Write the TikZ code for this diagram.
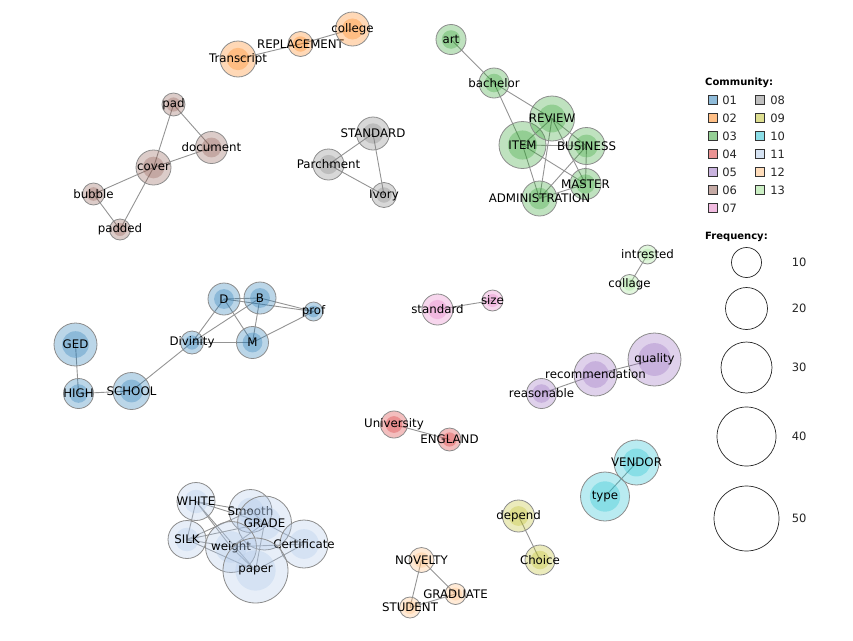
\documentclass[tikz,border=0pt]{standalone}
\usepackage{fontspec}
\setmainfont{DejaVu Sans}
\usetikzlibrary{backgrounds}

\definecolor{c01}{HTML}{1F77B4}
\definecolor{c02}{HTML}{FF7F0E}
\definecolor{c03}{HTML}{2CA02C}
\definecolor{c04}{HTML}{D62728}
\definecolor{c05}{HTML}{9467BD}
\definecolor{c06}{HTML}{8C564B}
\definecolor{c07}{HTML}{E377C2}
\definecolor{c08}{HTML}{7F7F7F}
\definecolor{c09}{HTML}{BCBD22}
\definecolor{c10}{HTML}{17BECF}
\definecolor{c11}{HTML}{AEC7E8}
\definecolor{c12}{HTML}{FFBB78}
\definecolor{c13}{HTML}{98DF8A}

\tikzset{
  word/.style={circle, inner sep=0pt, draw=black!45, line width=0.8pt,
    fill opacity=0.3, text opacity=1, font=\fontsize{11.8}{13}\selectfont},
  link/.style={draw=black!42, line width=0.9pt},
  keybox/.style={draw=black!80, line width=0.7pt, fill opacity=0.5},
  keytext/.style={anchor=west, inner sep=0pt, text opacity=1, fill opacity=1,
    font=\fontsize{11.5}{13}\selectfont, text=black!85},
  keyhead/.style={anchor=west, inner sep=0pt, font=\bfseries\fontsize{10}{12}\selectfont},
  keyring/.style={draw=black!85, line width=0.7pt}
}

% name, x, y, radius, colour, text
\newcommand{\wordnode}[6]{%
  \node[word, fill=#5, minimum size={2*#4pt},
    path picture={\fill[#5, fill opacity=0.3] (path picture bounding box.center) circle [radius={0.62*#4pt}];}]
    (#1) at (#2,#3) {\makebox[0pt]{#6}};}

\begin{document}
\begin{tikzpicture}[x=1pt,y=-1pt]
\useasboundingbox (0,0) rectangle (853,640);

% 02
\wordnode{transcript}{238}{59}{18}{c02}{Transcript}
\wordnode{replacement}{300.5}{44}{12.5}{c02}{REPLACEMENT}
\wordnode{college}{352.5}{29}{17}{c02}{college}
% 06
\wordnode{pad}{173.5}{104.5}{11.5}{c06}{pad}
\wordnode{document}{211.5}{147.5}{16}{c06}{document}
\wordnode{cover}{153.5}{167.5}{17.5}{c06}{cover}
\wordnode{bubble}{93.5}{194}{11}{c06}{bubble}
\wordnode{padded}{120}{229.5}{10.5}{c06}{padded}
% 08
\wordnode{standarduc}{373}{133.5}{16.5}{c08}{STANDARD}
\wordnode{parchment}{328.5}{164.5}{15.5}{c08}{Parchment}
\wordnode{ivory}{384}{195}{12.5}{c08}{Ivory}
% 03
\wordnode{art}{451}{39.5}{15}{c03}{art}
\wordnode{bachelor}{494}{83}{15}{c03}{bachelor}
\wordnode{item}{522.5}{145}{23.5}{c03}{ITEM}
\wordnode{review}{552}{118.5}{22.5}{c03}{REVIEW}
\wordnode{business}{586.5}{146}{18.5}{c03}{BUSINESS}
\wordnode{master}{585.5}{184}{15.5}{c03}{MASTER}
\wordnode{administration}{539.5}{198.5}{17.5}{c03}{ADMINISTRATION}
% 13
\wordnode{intrested}{647.5}{254.5}{9.5}{c13}{intrested}
\wordnode{collage}{629.5}{284.5}{10}{c13}{collage}
% 07
\wordnode{standardlc}{437.5}{309.5}{15.5}{c07}{standard}
\wordnode{size}{492.5}{300.5}{10.5}{c07}{size}
% 05
\wordnode{quality}{654.5}{359.5}{26.5}{c05}{quality}
\wordnode{recommendation}{595.5}{374.5}{21.5}{c05}{recommendation}
\wordnode{reasonable}{541.5}{393.5}{15}{c05}{reasonable}
% 01
\wordnode{d}{224}{299}{16}{c01}{D}
\wordnode{b}{260}{298}{16}{c01}{B}
\wordnode{prof}{313.5}{311.5}{9.5}{c01}{prof}
\wordnode{divinity}{192}{342.5}{11.5}{c01}{Divinity}
\wordnode{m}{252.5}{342.5}{16}{c01}{M}
\wordnode{ged}{75.5}{344.5}{21.5}{c01}{GED}
\wordnode{high}{78.5}{393.5}{15}{c01}{HIGH}
\wordnode{school}{131.5}{391}{18.5}{c01}{SCHOOL}
% 04
\wordnode{university}{394}{424.5}{13.5}{c04}{University}
\wordnode{england}{449.5}{439.5}{11.5}{c04}{ENGLAND}
% 10
\wordnode{vendor}{636.5}{462.5}{22.5}{c10}{VENDOR}
\wordnode{type}{605}{496.5}{24.5}{c10}{type}
% 09
\wordnode{depend}{518.5}{516}{16}{c09}{depend}
\wordnode{choice}{540}{560}{15}{c09}{Choice}
% 12
\wordnode{novelty}{421.5}{560}{12.5}{c12}{NOVELTY}
\wordnode{graduate}{455.5}{594}{10.5}{c12}{GRADUATE}
\wordnode{student}{410}{607.5}{10.5}{c12}{STUDENT}
% 11
\wordnode{white}{196}{501.5}{19}{c11}{WHITE}
\wordnode{silk}{187}{539.5}{19}{c11}{SILK}
\wordnode{smooth}{250.5}{511}{21.5}{c11}{Smooth}
\wordnode{grade}{264.5}{523}{27}{c11}{GRADE}
\wordnode{weight}{231}{547}{25.5}{c11}{weight}
\wordnode{certificate}{304}{544}{24}{c11}{Certificate}
\wordnode{paper}{255.5}{570.5}{32.5}{c11}{paper}

\begin{scope}[on background layer]
\foreach \a/\b in {transcript/replacement, replacement/college,
  pad/document, pad/cover, cover/document, cover/bubble, cover/padded, bubble/padded,
  standarduc/parchment, standarduc/ivory, parchment/ivory,
  art/bachelor, bachelor/review, bachelor/item, review/item, review/business,
  review/master, review/administration, item/business, item/master,
  item/administration, business/master, business/administration, master/administration,
  intrested/collage, standardlc/size, reasonable/recommendation, recommendation/quality,
  d/b, d/prof, b/prof, d/m, b/m, d/divinity, b/divinity, divinity/m, m/prof,
  divinity/school, high/school, ged/high,
  university/england, vendor/type, depend/choice,
  novelty/graduate, novelty/student, student/graduate,
  white/smooth, white/grade, white/weight, white/paper, white/silk,
  silk/smooth, silk/grade, silk/weight, silk/paper,
  weight/paper, weight/grade, weight/certificate, grade/certificate,
  grade/paper, certificate/paper, smooth/grade}
  \draw[link] (\a.center) -- (\b.center);
\end{scope}

% legend
\node[keyhead] (communityhead) at (705,82.5) {Community:};
\foreach \n [count=\i from 0] in {01,02,03,04,05,06,07}
  \draw[keybox, fill=c\n] (708,95.5+18*\i) rectangle (717,104.5+18*\i)
    node[keytext] at (722,100+18*\i) {\n};
\foreach \n [count=\i from 0] in {08,09,10,11,12,13}
  \draw[keybox, fill=c\n] (755,95.5+18*\i) rectangle (764,104.5+18*\i)
    node[keytext] at (770,100+18*\i) {\n};
\node[keyhead] (frequencyhead) at (705,236.5) {Frequency:};
\foreach \f/\y/\r in {10/262.5/15, 20/308.5/21, 30/367.5/25.5, 40/436.5/29.5, 50/518.5/32.5}
  \draw[keyring] (746.5,\y) circle [radius=\r]
    node[keytext] at (791.5,\y) {\f};
\end{tikzpicture}
\end{document}
